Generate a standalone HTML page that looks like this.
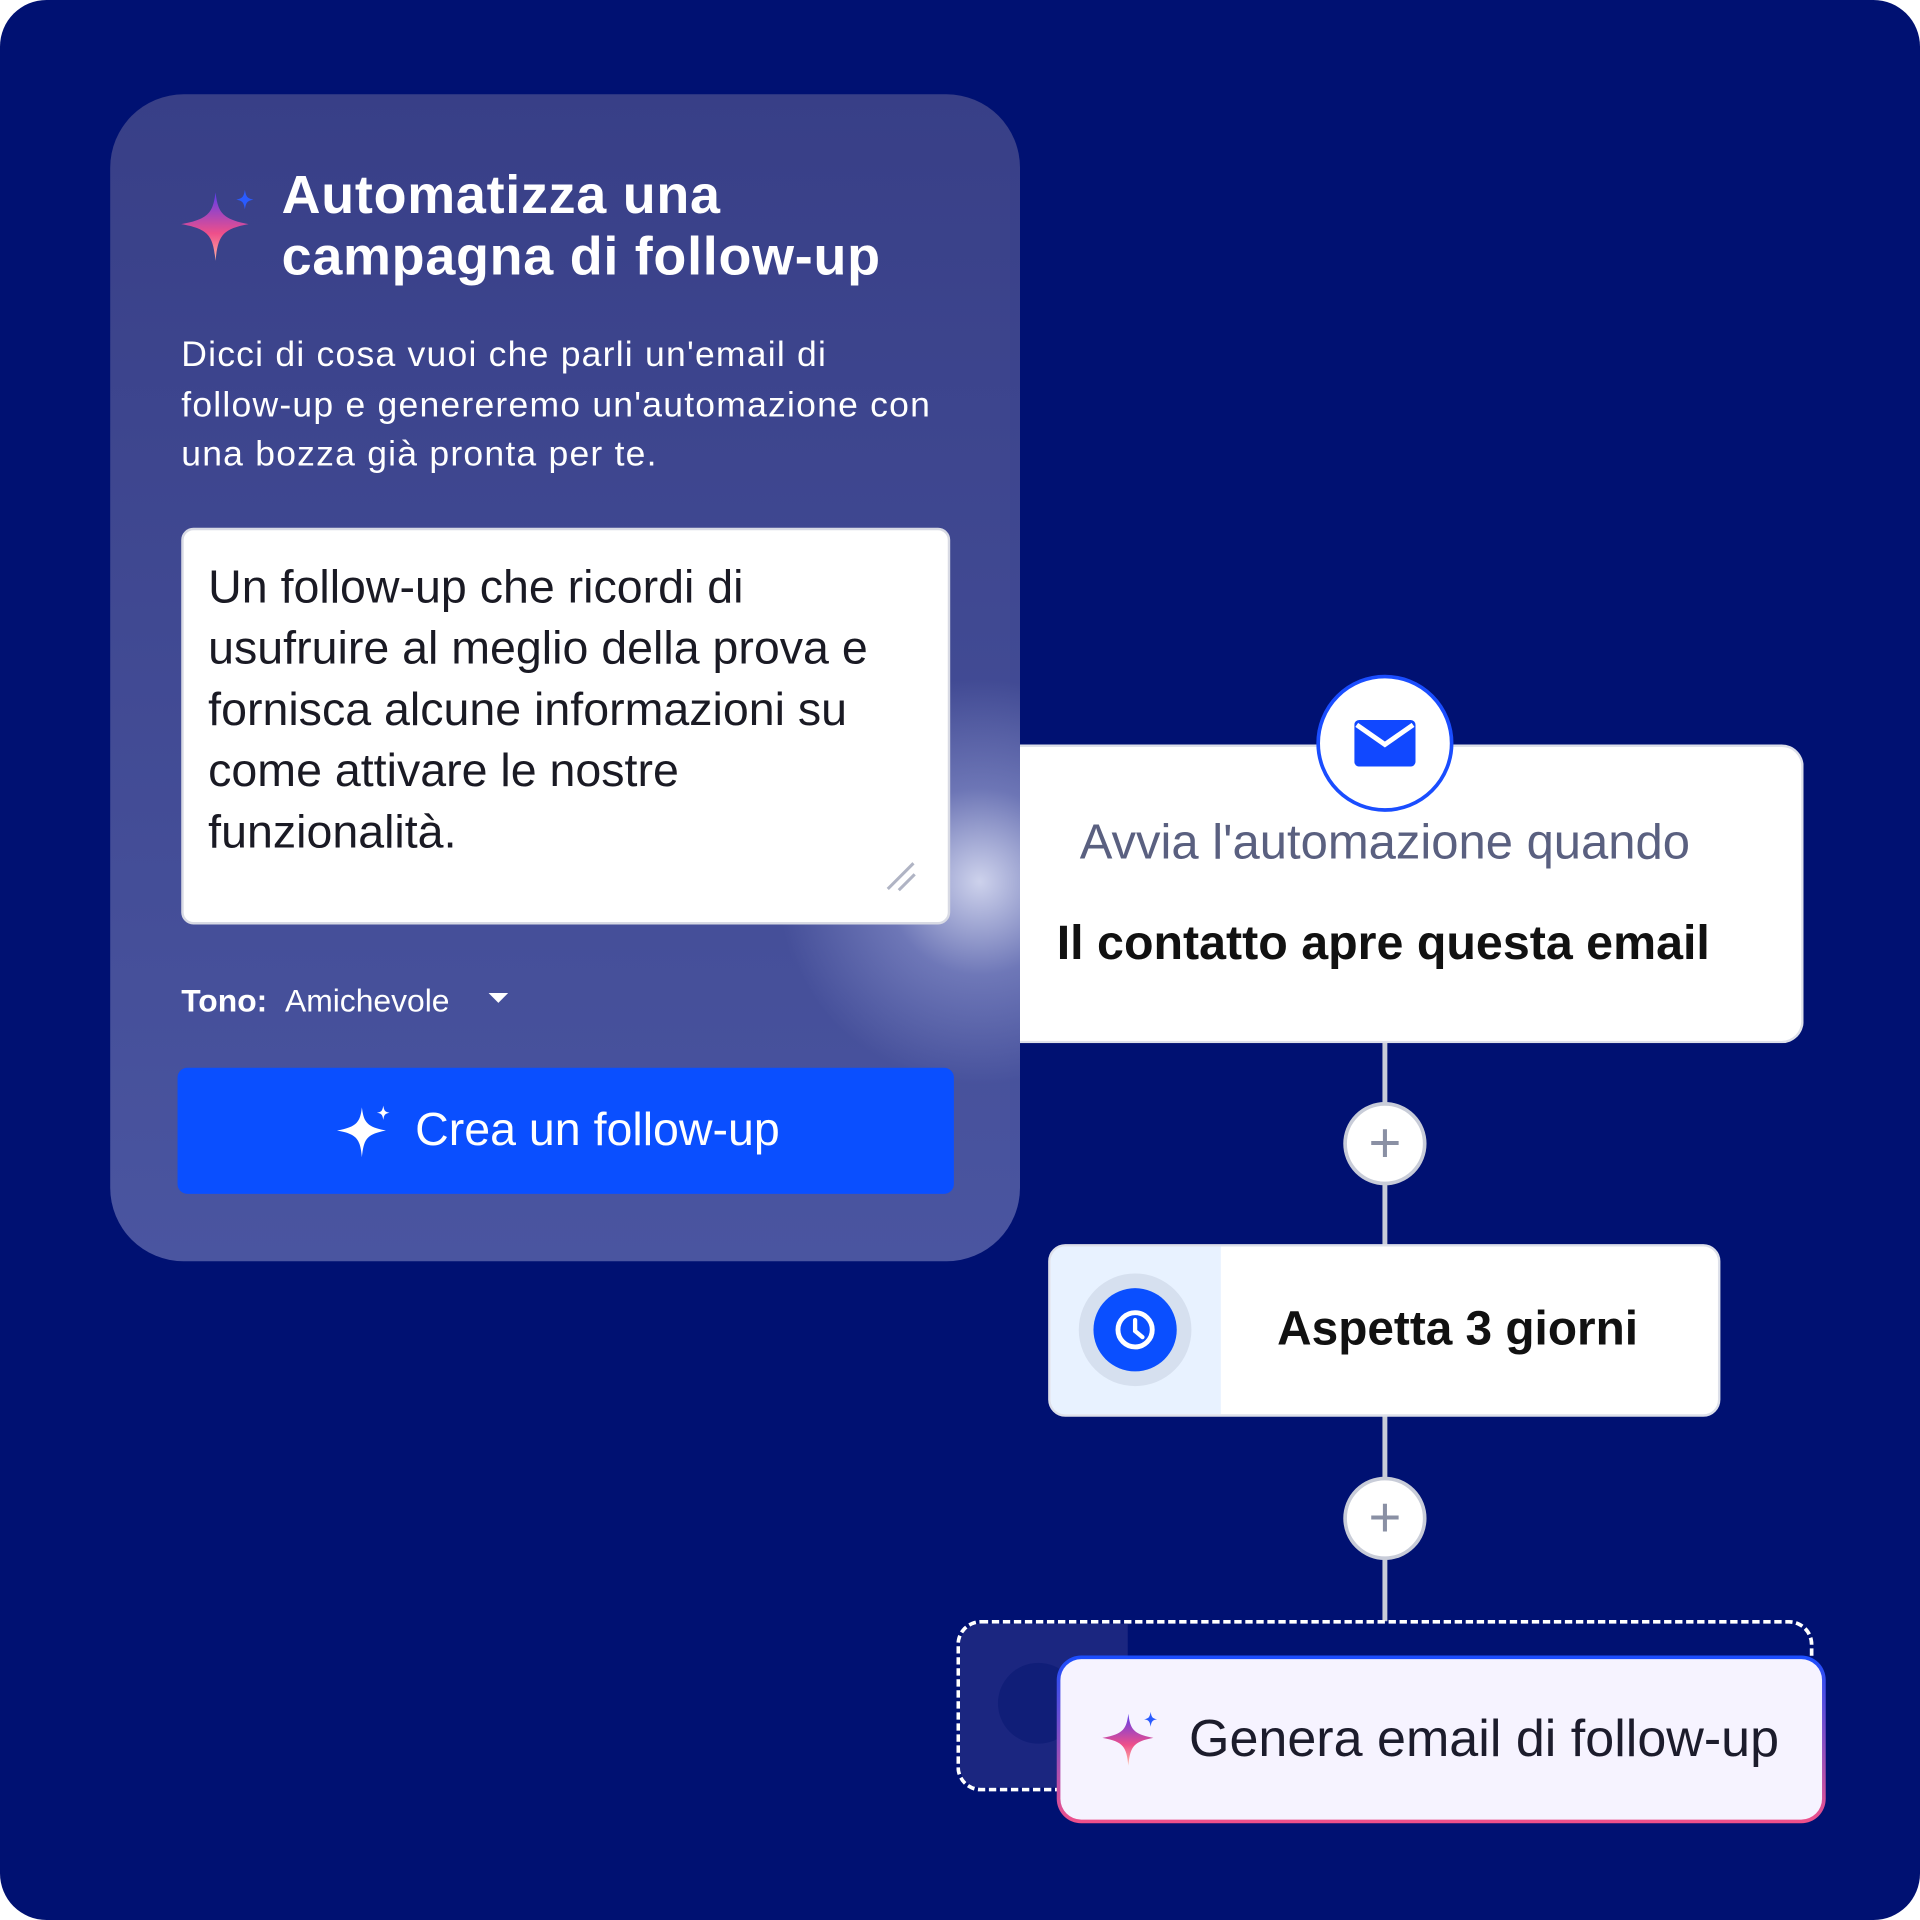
<!DOCTYPE html>
<html><head><meta charset="utf-8"><style>
*{margin:0;padding:0;box-sizing:border-box}
html,body{width:1920px;height:1920px;background:#fff;overflow:hidden}
#s{position:absolute;left:0;top:0;width:1568px;height:1568px;transform:scale(1.22449);transform-origin:0 0;font-family:"Liberation Sans",sans-serif}
.bg{position:absolute;left:0;top:0;width:1568px;height:1568px;border-radius:38px;background:#001172;overflow:hidden}
.abs{position:absolute}
.t{position:absolute;white-space:nowrap}
</style></head><body><div id="s"><div class="bg">
<div class="abs" style="left:90px;top:77px;width:743px;height:953px;border-radius:60px;background:linear-gradient(#383f87,#4a55a0);overflow:hidden"><div class="abs" style="left:530px;top:463px;width:360px;height:360px;border-radius:50%;background:radial-gradient(circle,rgba(220,224,245,.9) 0%,rgba(160,168,220,.45) 30%,rgba(80,90,170,0) 65%)"></div></div>
<svg class="abs" style="left:145px;top:153px" width="66" height="62" viewBox="0 0 66 62"><defs><linearGradient id="g1" x1="0" y1="0" x2="0" y2="1"><stop offset="0" stop-color="#5a3cf0"/><stop offset=".6" stop-color="#ee4f8a"/><stop offset="1" stop-color="#ffb0a0"/></linearGradient></defs><path d="M31 4 C33 20 36 26 58 30 C36 34 33 40 31 60 C29 40 26 34 3 30 C26 26 29 20 31 4Z" fill="url(#g1)"/><path d="M55 2 C56 8 57 9 62 10 C57 11 56 12 55 18 C54 12 53 11 48 10 C53 9 54 8 55 2Z" fill="#2a5bff"/></svg>
<div class="t" style="left:230px;top:135px;font-size:44px;font-weight:bold;color:#fff;line-height:50px;letter-spacing:.6px">Automatizza una<br>campagna di follow-up</div>
<div class="t" style="left:148px;top:270px;font-size:29px;color:#fff;line-height:40.5px;letter-spacing:1px">Dicci di cosa vuoi che parli un'email di<br>follow-up e genereremo un'automazione con<br>una bozza già pronta per te.</div>
<div class="abs" style="left:148px;top:431px;width:628px;height:324px;background:#fff;border:2px solid #d8dae4;border-radius:10px"></div>
<div class="t" style="left:170px;top:455px;font-size:38px;color:#1a1a24;line-height:50px">Un follow-up che ricordi di<br>usufruire al meglio della prova e<br>fornisca alcune informazioni su<br>come attivare le nostre<br>funzionalità.</div>
<svg class="abs" style="left:722px;top:702px" width="28" height="28"><path d="M3 24 L24 3 M12 25 L25 12" stroke="#b0b4c4" stroke-width="2.5"/></svg>
<div class="t" style="left:148px;top:802px;font-size:26px;color:#fff;line-height:30px"><b>Tono:</b>&nbsp;&nbsp;Amichevole</div>
<svg class="abs" style="left:399px;top:811px" width="16" height="10"><path d="M0 0 L16 0 L8 8Z" fill="#fff"/></svg>
<div class="abs" style="left:145px;top:872px;width:634px;height:103px;background:#0a4fff;border-radius:8px"></div>
<svg class="abs" style="left:273px;top:900px" width="48" height="48" viewBox="0 0 66 62"><path d="M31 4 C33 20 36 26 58 30 C36 34 33 40 31 60 C29 40 26 34 3 30 C26 26 29 20 31 4Z" fill="#fff"/><path d="M55 2 C56 8 57 9 62 10 C57 11 56 12 55 18 C54 12 53 11 48 10 C53 9 54 8 55 2Z" fill="#fff"/></svg>
<div class="t" style="left:339px;top:901px;font-size:38px;color:#fff;line-height:44px">Crea un follow-up</div>
<div class="abs" style="left:1129px;top:850px;width:4px;height:474px;background:#c8ccd8"></div>
<div class="abs" style="left:833px;top:608px;width:640px;height:244px;background:#fff;border-radius:0 18px 18px 0;border:2px solid #dde0ea;border-left:none"></div>
<div class="abs" style="left:1075px;top:551px;width:112px;height:112px;border-radius:50%;background:#fff;border:3px solid #1a4dff"></div>
<svg class="abs" style="left:1106px;top:588px" width="50" height="38"><rect x="0" y="0" width="50" height="38" rx="4" fill="#1148ff"/><path d="M2 4 L25 20 L48 4" stroke="#fff" stroke-width="4" fill="none"/></svg>
<div class="t" style="left:833px;width:596px;text-align:center;top:665px;font-size:40px;color:#5a6080;line-height:46px">Avvia l'automazione quando</div>
<div class="t" style="left:863px;top:747px;font-size:39.5px;font-weight:bold;color:#111;line-height:46px">Il contatto apre questa email</div>
<div class="abs" style="left:1097px;top:900px;width:68px;height:68px;border-radius:50%;background:#fff;border:3px solid #c8ccd8"></div>
<div class="t" style="left:1097px;top:900px;width:68px;height:68px;text-align:center;line-height:66px;font-size:46px;color:#8a90a4">+</div>
<div class="abs" style="left:1097px;top:1206px;width:68px;height:68px;border-radius:50%;background:#fff;border:3px solid #c8ccd8"></div>
<div class="t" style="left:1097px;top:1206px;width:68px;height:68px;text-align:center;line-height:66px;font-size:46px;color:#8a90a4">+</div>
<div class="abs" style="left:856px;top:1016px;width:549px;height:141px;border-radius:14px;background:#fff;overflow:hidden;border:2px solid #dde0ea"><div style="width:139px;height:100%;background:#e8f2ff"></div></div>
<div class="abs" style="left:881px;top:1040px;width:92px;height:92px;border-radius:50%;background:#d6e0ef"></div>
<div class="abs" style="left:893px;top:1052px;width:68px;height:68px;border-radius:50%;background:#0a4fff"></div>
<svg class="abs" style="left:907px;top:1066px" width="40" height="40"><circle cx="20" cy="20" r="14" stroke="#fff" stroke-width="4" fill="none"/><path d="M20 12 V21 L26 26" stroke="#fff" stroke-width="3.5" fill="none" stroke-linecap="round"/></svg>
<div class="t" style="left:1043px;top:1063px;font-size:39px;font-weight:bold;color:#111;line-height:46px">Aspetta 3 giorni</div>
<div class="abs" style="left:781px;top:1323px;width:700px;height:140px;border-radius:20px;border:3px dashed #fff;overflow:hidden"><div style="width:137px;height:100%;background:#1b2680"></div></div>
<div class="abs" style="left:815px;top:1358px;width:66px;height:66px;border-radius:50%;background:#101e78"></div>
<div class="abs" style="left:863px;top:1352px;width:628px;height:137px;border-radius:20px;background:linear-gradient(#1a4dff,#f0508a);padding:3px"><div style="width:100%;height:100%;border-radius:17px;background:#f6f3ff"></div></div>
<svg class="abs" style="left:898px;top:1396px" width="50" height="48" viewBox="0 0 66 62"><defs><linearGradient id="g2" x1="0" y1="0" x2="0" y2="1"><stop offset="0" stop-color="#5a3cf0"/><stop offset=".6" stop-color="#ee4f8a"/><stop offset="1" stop-color="#ffc0a8"/></linearGradient></defs><path d="M31 4 C33 20 36 26 58 30 C36 34 33 40 31 60 C29 40 26 34 3 30 C26 26 29 20 31 4Z" fill="url(#g2)"/><path d="M55 2 C56 8 57 9 62 10 C57 11 56 12 55 18 C54 12 53 11 48 10 C53 9 54 8 55 2Z" fill="#2a5bff"/></svg>
<div class="t" style="left:971px;top:1396px;font-size:42.5px;color:#1c1c2c;line-height:50px">Genera email di follow-up</div>
</div></div></body></html>
